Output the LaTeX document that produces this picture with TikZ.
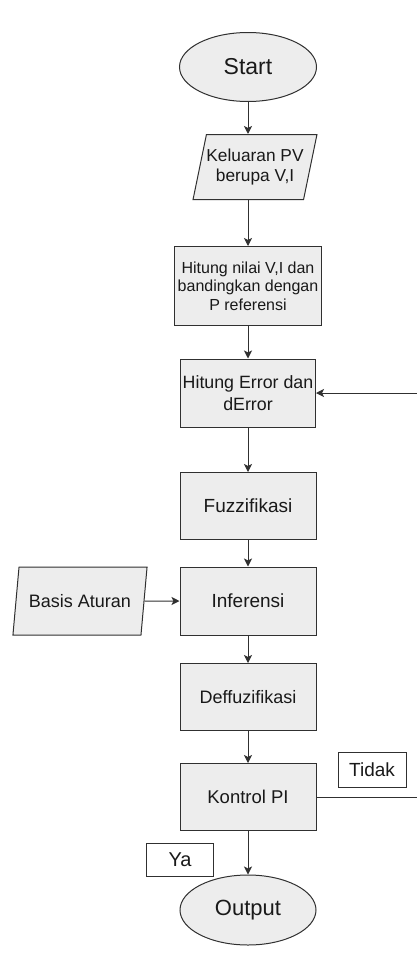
\documentclass[tikz,border=0pt]{standalone}
\usepackage{fontspec}
\setmainfont{Liberation Sans}
\usetikzlibrary{shapes.geometric,arrows.meta}
\definecolor{boxfill}{HTML}{EDEDED}
\definecolor{boxline}{HTML}{303030}
\tikzset{
	base/.style={draw=boxline, line width=1pt, inner sep=0pt, align=center, text=black!90},
	procbox/.style={base, fill=boxfill, rectangle, minimum width=136pt, minimum height=67pt},
	terminal/.style={base, fill=boxfill, ellipse, minimum width=137pt, minimum height=69pt},
	datain/.style={base, fill=boxfill, trapezium, trapezium left angle=72, trapezium right angle=108, trapezium stretches=true},
	tag/.style={base, fill=white, rectangle, minimum width=68pt, minimum height=34pt},
	flowline/.style={draw=boxline, line width=1pt},
	flowarrow/.style={flowline, -{Stealth[length=8pt,width=8pt,inset=2pt]}}
}
\begin{document}
\begin{tikzpicture}[x=1pt,y=-1pt]
			%%%%% START %%%%%
			\useasboundingbox (0,0) rectangle (417,961);
			
			\node[terminal, font=\fontsize{23}{27}\selectfont] (start) at (248,67) {Start};
			\node[datain, minimum width=124pt, minimum height=65pt, inner xsep=-6pt, font=\fontsize{17.3}{20}\selectfont] (keluaran) at (255,167) {Keluaran PV\\berupa V,I};
			\node[procbox, minimum width=147pt, minimum height=79pt, font=\fontsize{16}{18.5}\selectfont] (hitungnilai) at (248,286) {Hitung nilai V,I dan\\bandingkan dengan\\P referensi};
			\node[procbox, minimum width=135pt, minimum height=68pt, font=\fontsize{17.8}{22}\selectfont] (hitungerr) at (248,393) {Hitung Error dan\\dError};
			\node[procbox, font=\fontsize{19}{22}\selectfont] (fuzzi) at (248,506) {Fuzzifikasi};
			\node[procbox, minimum height=68pt, font=\fontsize{19}{22}\selectfont] (inferensi) at (248,601) {Inferensi};
			\node[datain, minimum width=135pt, minimum height=68pt, inner xsep=-8pt, font=\fontsize{18}{21}\selectfont] (basis) at (80,601) {Basis Aturan};
			\node[procbox, font=\fontsize{18}{21}\selectfont] (deffuzi) at (248,697) {Deffuzifikasi};
			\node[procbox, font=\fontsize{18.5}{21}\selectfont] (kontrol) at (248,797) {Kontrol PI};
			\node[terminal, minimum width=136pt, minimum height=70pt, font=\fontsize{22}{25}\selectfont] (output) at (248,910) {Output};
			
			\node[tag, minimum height=35pt, font=\fontsize{19}{22}\selectfont] (tidak) at (372,770) {Tidak};
			\node[tag, minimum width=67pt, minimum height=33pt, font=\fontsize{20}{22}\selectfont] (ya) at (180,860) {Ya};
			
			\coordinate (fbout) at (417,797);
			\coordinate (fbin) at (417,393);
			
			\draw[flowarrow] (start.south) -- (start.south |- keluaran.north);
			\draw[flowarrow] (start |- keluaran.south) -- (hitungnilai.north);
			\draw[flowarrow] (hitungnilai.south) -- (hitungerr.north);
			\draw[flowarrow] (hitungerr.south) -- (fuzzi.north);
			\draw[flowarrow] (fuzzi.south) -- (inferensi.north);
			\draw[flowarrow] (basis.east) -- (inferensi.west);
			\draw[flowarrow] (inferensi.south) -- (deffuzi.north);
			\draw[flowarrow] (deffuzi.south) -- (kontrol.north);
			\draw[flowarrow] (kontrol.south) -- (output.north);
			\draw[flowline] (kontrol.east) -- (fbout);
			\draw[flowarrow] (fbin) -- (hitungerr.east);
			%%%%% END %%%%%
		\end{tikzpicture}
\end{document}
